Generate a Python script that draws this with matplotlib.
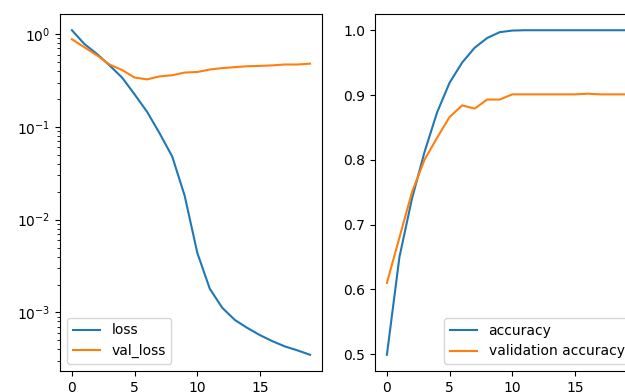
#!/usr/bin/env python

import matplotlib
matplotlib.use("Agg")
import matplotlib.pyplot as plt
import numpy as np

# training history
epochs = np.arange(20)

loss = [1.10, 0.78, 0.61, 0.46, 0.34, 0.224, 0.145, 0.085, 0.048, 0.018,
        0.0044, 0.0018, 0.00112, 0.00083, 0.00068, 0.00057, 0.00049,
        0.00043, 0.00039, 0.00035]
val_loss = [0.88, 0.72, 0.59, 0.47, 0.41, 0.34, 0.325, 0.35, 0.36, 0.385,
            0.39, 0.415, 0.43, 0.44, 0.45, 0.454, 0.46, 0.47, 0.47, 0.48]

accuracy = [0.499, 0.65, 0.74, 0.812, 0.873, 0.919, 0.95, 0.973, 0.988,
            0.997, 0.9995, 1.0, 1.0, 1.0, 1.0, 1.0, 1.0, 1.0, 1.0, 1.0]
val_accuracy = [0.61, 0.68, 0.75, 0.80, 0.834, 0.866, 0.884, 0.879, 0.893,
                0.893, 0.901, 0.901, 0.901, 0.901, 0.901, 0.901, 0.902,
                0.901, 0.901, 0.901]

W, H = 625, 392
fig = plt.figure(figsize=(W / 100, H / 100), dpi=100)

# axes placed by hand, the right one runs past the figure edge like in the reference
ax1 = fig.add_axes([60 / W, (H - 371) / H, 262 / W, 357 / H])
ax2 = fig.add_axes([375 / W, (H - 371) / H, 262 / W, 357 / H])

ax1.plot(epochs, loss, label="loss")
ax1.plot(epochs, val_loss, label="val_loss")
ax1.set_yscale("log")
ax1.legend(loc="lower left")

ax2.plot(epochs, accuracy, label="accuracy")
ax2.plot(epochs, val_accuracy, label="validation accuracy")
ax2.legend(loc="lower right")

fig.savefig("out.png", dpi=100)
